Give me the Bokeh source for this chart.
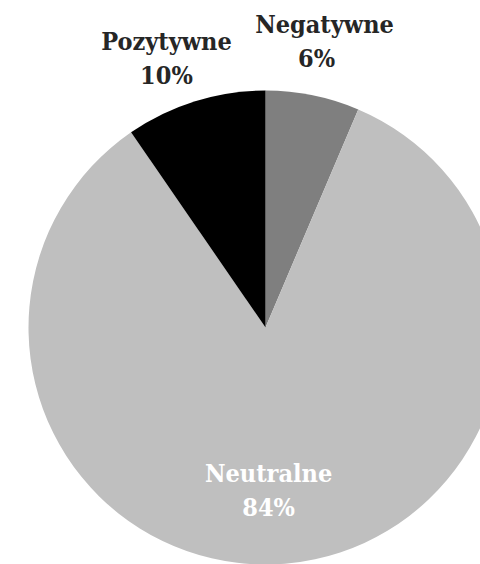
import math
from bokeh.plotting import figure
from bokeh.models import ColumnDataSource, Range1d
from bokeh.core.properties import value
from bokeh.embed import file_html
from bokeh.resources import INLINE

# ---- data ----
categories = ["Negatywne", "Neutralne", "Pozytywne"]
shares = [6.4, 84.0, 9.6]
pct_labels = ["6%", "84%", "10%"]
colors = ["#7f7f7f", "#bfbfbf", "#000000"]
label_colors = ["#262626", "#ffffff", "#262626"]

# ---- layout (pie radius = 1 data unit = 237 px) ----
R_PX = 237.0
W, H = 480, 564
CX, CY = 265.0, 327.0  # pie centre in figure pixels (from top-left)
label_pos = {  # data coords of label centres
    "Negatywne": (0.249, 1.207),
    "Neutralne": (0.013, -0.688),
    "Pozytywne": (-0.418, 1.133),
}
pct_dx = {"Negatywne": -8, "Neutralne": 0, "Pozytywne": 0}

total = sum(shares)
starts, ends = [], []
cum = 0.0
for s in shares:
    a_before = math.pi / 2 - cum / total * 2 * math.pi
    cum += s
    a_after = math.pi / 2 - cum / total * 2 * math.pi
    starts.append(a_after)
    ends.append(a_before)

src = ColumnDataSource(dict(cat=categories, start=starts, end=ends, color=colors))

lx = [label_pos[c][0] for c in categories]
ly = [label_pos[c][1] for c in categories]
lsrc = ColumnDataSource(dict(x=lx, y=ly, name=categories, pct=pct_labels,
                             tcolor=label_colors,
                             pdx=[pct_dx[c] for c in categories]))

p = figure(width=W, height=H, output_backend="svg", toolbar_location=None,
           x_range=Range1d(-CX / R_PX, (W - CX) / R_PX),
           y_range=Range1d(-(H - CY) / R_PX, CY / R_PX),
           min_border=0)
p.axis.visible = False
p.grid.visible = False
p.outline_line_color = None
p.background_fill_color = "white"
p.border_fill_color = "white"

p.wedge(x=0, y=0, radius=1, start_angle="start", end_angle="end",
        fill_color="color", line_color=None, source=src)

FONT = value("DejaVu Serif Condensed")
p.text(x="x", y="y", text="name", source=lsrc, text_font=FONT,
       text_font_style="bold", text_font_size="25px", text_color="tcolor",
       text_align="center", text_baseline="middle", y_offset=-17)
p.text(x="x", y="y", text="pct", source=lsrc, text_font=FONT,
       text_font_style="bold", text_font_size="25px", text_color="tcolor",
       text_align="center", text_baseline="middle", y_offset=17, x_offset="pdx")

open("out.html", "w").write(file_html(p, INLINE))
